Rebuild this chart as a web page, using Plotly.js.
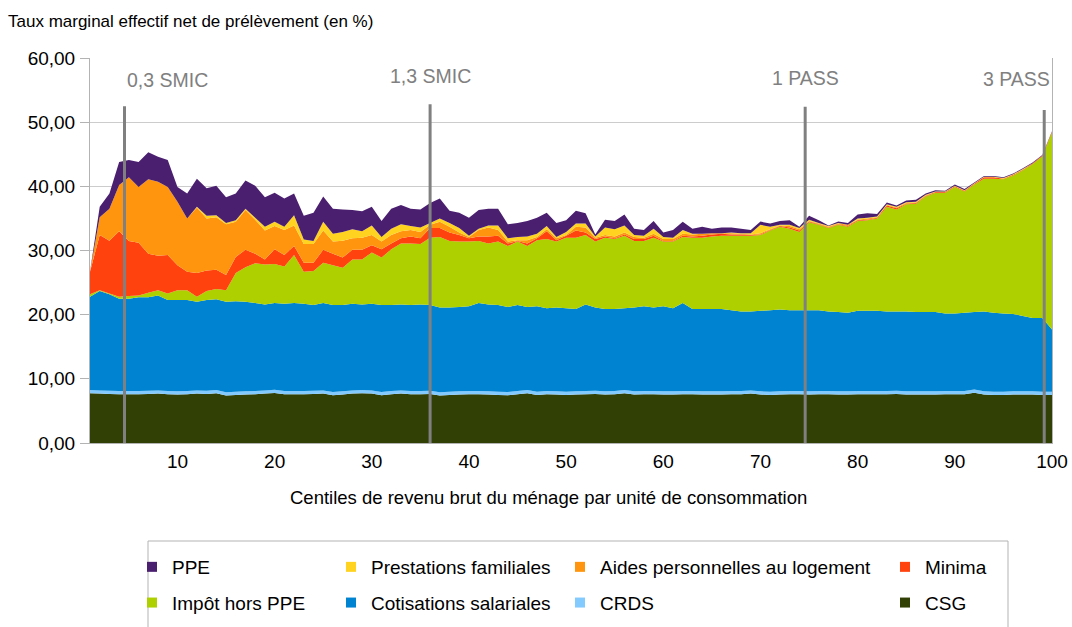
<!DOCTYPE html>
<html>
<head>
<meta charset="utf-8">
<script src="https://cdn.plot.ly/plotly-3.0.1.min.js"></script>
<style>html,body{margin:0;padding:0;background:#fff;}#chart{width:1072px;height:627px;}</style>
</head>
<body>
<div id="chart"></div>
<script>
// Centiles de revenu brut (1..100)
const centiles = [];
for (let c = 1; c <= 100; c++) centiles.push(c);

const csg = [7.75,7.7,7.65,7.6,7.6,7.6,7.65,7.7,7.6,7.55, 7.6,7.7,7.65,7.75,7.4,7.5,7.55,7.6,7.7,7.8, 7.6,7.6,7.6,7.65,7.7,7.45,7.55,7.7,7.75,7.7, 7.45,7.6,7.7,7.6,7.6,7.65,7.4,7.5,7.55,7.6, 7.6,7.55,7.5,7.45,7.6,7.75,7.5,7.6,7.55,7.5, 7.55,7.6,7.65,7.55,7.6,7.75,7.55,7.6,7.6,7.55, 7.55,7.6,7.6,7.55,7.55,7.55,7.6,7.6,7.7,7.55, 7.5,7.55,7.6,7.6,7.55,7.6,7.6,7.55,7.55,7.6, 7.6,7.6,7.6,7.65,7.55,7.55,7.55,7.55,7.6,7.6, 7.6,7.85,7.55,7.5,7.5,7.55,7.55,7.55,7.5,7.5];
const crds = [0.5,0.5,0.5,0.5,0.5,0.5,0.5,0.5,0.5,0.5, 0.5,0.5,0.5,0.5,0.5,0.5,0.5,0.5,0.5,0.5, 0.5,0.5,0.5,0.5,0.5,0.5,0.5,0.5,0.5,0.5, 0.5,0.5,0.5,0.5,0.5,0.5,0.5,0.5,0.5,0.5, 0.5,0.5,0.5,0.5,0.5,0.5,0.5,0.5,0.5,0.5, 0.5,0.5,0.5,0.5,0.5,0.5,0.5,0.5,0.5,0.5, 0.5,0.5,0.5,0.5,0.5,0.5,0.5,0.5,0.5,0.5, 0.5,0.5,0.5,0.5,0.5,0.5,0.5,0.5,0.5,0.5, 0.5,0.5,0.5,0.5,0.5,0.5,0.5,0.5,0.5,0.5, 0.5,0.5,0.5,0.5,0.5,0.5,0.5,0.5,0.5,0.5];
const cotisations = [14.55,15.5,15.05,14.4,14.4,14.6,14.55,14.8,14.2,14.25, 14.2,13.8,14.15,14.15,14.1,14.1,13.95,13.7,13.4,13.5, 13.6,13.7,13.6,13.35,13.6,13.55,13.45,13.5,13.35,13.5, 13.55,13.4,13.4,13.4,13.5,13.35,13.2,13.1,13.15,13.2, 13.7,13.55,13.5,13.25,13.4,12.95,13.3,12.9,13.05,13.0, 12.85,13.5,12.95,12.85,12.8,12.75,13.05,13.2,13.0,13.25, 12.95,13.7,12.8,12.85,12.85,12.85,12.6,12.4,12.3,12.55, 12.7,12.75,12.6,12.6,12.65,12.6,12.4,12.35,12.25,12.5, 12.5,12.5,12.4,12.35,12.45,12.35,12.35,12.35,12.1,12.1, 12.2,12.05,12.45,12.3,12.2,12.05,11.75,11.45,11.5,9.7];
const impot = [0.4,0.1,0.1,0.3,0.4,0.3,0.7,0.8,1.0,1.5, 1.5,0.8,1.4,1.6,1.8,4.4,5.4,6.2,6.2,6.1, 5.8,7.5,5.0,5.3,6.3,6.2,5.8,6.9,7.0,8.0, 7.4,8.7,9.5,9.6,9.4,10.5,11.0,10.4,10.2,10.1, 9.7,9.5,9.9,9.5,9.9,9.5,10.3,10.8,10.3,11.0, 11.1,10.8,10.3,11.1,10.9,11.3,10.4,10.2,10.9,10.1, 10.4,10.3,11.1,11.1,11.3,11.4,11.6,11.8,11.8,11.8, 12.4,12.9,12.7,12.2,13.7,13.3,13.0,13.6,13.4,14.0, 14.1,14.4,16.3,15.9,16.7,16.9,18.0,18.6,18.8,19.7, 18.9,19.9,20.7,20.9,20.9,21.6,22.7,24.0,25.2,30.7];
const minima = [3.5,8.6,8.2,10.2,8.6,8.2,6.1,5.4,6.0,3.9, 2.9,3.7,3.2,3.0,2.4,2.5,2.7,1.5,0.8,2.3, 1.8,1.4,1.4,1.3,2.0,1.8,1.6,1.5,1.5,1.1, 1.3,0.9,0.8,1.1,0.9,1.5,1.4,1.3,1.0,0.5, 0.7,1.1,0.9,0.4,0.1,0.4,0.3,1.2,0.2,0.3, 1.1,0.4,0.4,0.2,0.1,0.2,0.3,0.3,0.3,0.1, 0.1,0.2,0.2,0.3,0.3,0.3,0.2,0.2,0.1,0.1, 0.1,0.1,0.2,0.2,0.1,0.1,0.1,0.1,0.1,0.1, 0.1,0.1,0.2,0.2,0.1,0.1,0.1,0.1,0.1,0.1, 0.1,0.1,0.2,0.2,0.1,0.1,0.1,0.1,0.1,0.1];
const aides = [0,2.8,5.0,7.2,9.9,8.7,11.6,11.5,10.6,9.9, 8.3,10.2,8.1,8.2,7.9,5.5,6.2,5.3,4.5,3.6, 3.9,3.2,2.9,2.9,3.0,1.9,2.6,1.8,1.9,1.6, 1.2,1.3,1.1,1.0,1.0,0.5,1.0,0.9,0.4,0.2, 1.0,1.4,0.9,0.3,0.1,0.5,0.2,0.3,0.3,0.1, 0.6,0.8,0.2,0.2,0.3,0.3,0.3,0.2,0.3,0.3, 0.3,0.3,0.3,0.3,0.2,0.1,0.2,0.1,0.1,0.2, 0.1,0.1,0.2,0.2,0.1,0.1,0.1,0.1,0.2,0.1, 0.2,0.1,0.1,0.1,0.1,0.1,0.1,0,0,0, 0,0,0,0,0,0,0,0,0,0];
const prestations = [0,0,0,0,0,0,0,0,0,0, 0,0.1,0.4,0.3,0.2,0.2,0.2,0.3,0.6,0.7, 0.5,1.6,0.7,0.5,1.4,1.2,1.4,1.4,1.0,1.5, 0.7,1.0,1.1,0.6,0.7,0.3,0.5,0.6,0.7,0.2, 0.2,0.3,0.7,0.5,0.5,0.6,0.5,0.5,0.2,0.5, 0.5,0.6,0.2,1.2,1.1,1.1,0.3,0.3,0.8,0.3, 0.2,0.6,0.1,0,0,0,0.1,0.1,0.2,1.3, 0.4,0.1,0.2,0.2,0.2,0.1,0.1,0.1,0,0.2, 0.1,0.1,0.1,0.1,0.1,0.1,0.1,0.1,0.1,0.1, 0.1,0.1,0.1,0.1,0.1,0.1,0.1,0,0,0];
const ppe = [0,1.6,2.4,3.6,2.7,3.9,4.2,3.9,4.2,2.3, 3.9,4.4,4.3,4.6,4.0,4.2,4.4,5.0,4.6,4.5, 4.4,3.4,3.7,4.4,3.9,3.9,3.5,3.0,3.1,2.9, 2.5,3.1,3.0,2.7,2.8,3.1,3.1,1.9,2.4,2.8, 2.9,2.6,2.6,2.2,2.2,2.4,2.5,2.1,2.2,1.8, 2.0,1.6,0.3,1.2,1.3,1.7,1.0,0.9,1.2,0.7, 1.2,1.3,0.8,1.1,0.7,0.9,0.8,0.7,0.5,0.5, 0.5,0.6,0.7,0.2,0.6,0.4,0.1,0.2,0.3,0.6, 0.7,0.4,0.3,0.2,0.3,0.3,0.2,0.2,0.1,0.2, 0.2,0.1,0.1,0.1,0.1,0.1,0.1,0.1,0.1,0.1];

// Series (stack order bottom -> top)
const seriesNames  = ['CSG','CRDS','Cotisations salariales','Impôt hors PPE','Minima','Aides personnelles au logement','Prestations familiales','PPE'];
const seriesValues = [csg, crds, cotisations, impot, minima, aides, prestations, ppe];
const seriesColors = ['#314004','#83caff','#0084d1','#aecf00','#ff420e','#ff950e','#ffd320','#4b1f6f'];
const seriesLegend = ['legend4','legend3','legend2','legend','legend4','legend3','legend2','legend'];
// Legend display order (top row first)
const legendOrder = [7,6,5,4,3,2,1,0];

// Reference thresholds
const markerLabels = ['0,3 SMIC','1,3 SMIC','1 PASS','3 PASS'];
const markerX      = [4.55, 36, 74.6, 99.2];
const markerTop    = [52.5, 52.8, 52.4, 51.9];
const labelX       = [4.6, 36, 74.6, 100];
const labelY       = [56.6, 57.2, 56.9, 56.7];
const labelAnchor  = ['left','center','center','right'];

const FONT = 'Liberation Sans, Arial, sans-serif';

const traces = [];
seriesNames.forEach((name, i) => {
  traces.push({
    type: 'scatter', x: centiles, y: seriesValues[i], name: name,
    stackgroup: 'one', mode: 'none', fillcolor: seriesColors[i],
    line: {width: 0}, showlegend: false, hoverinfo: 'x+y+name'
  });
});
legendOrder.forEach(i => {
  traces.push({
    type: 'scatter', x: [null], y: [null], name: seriesNames[i], mode: 'markers',
    marker: {symbol: 'square', size: 10, color: seriesColors[i]},
    legend: seriesLegend[i], legendgroup: 'g' + i, showlegend: true, hoverinfo: 'skip'
  });
});

const shapes = markerX.map((x, i) => ({
  type: 'line', xref: 'x', yref: 'y', x0: x, x1: x, y0: -0.5, y1: markerTop[i],
  line: {color: '#808080', width: 3}, layer: 'above'
}));
shapes.push({
  type: 'rect', xref: 'paper', yref: 'paper',
  x0: (148-90)/962, x1: (1008-90)/962, y0: (443-541)/385, y1: (443-660)/385,
  line: {color: '#b3b3b3', width: 1}, fillcolor: 'rgba(0,0,0,0)', layer: 'below'
});

const annotations = markerLabels.map((t, i) => ({
  text: t, x: labelX[i], y: labelY[i], xref: 'x', yref: 'y',
  xanchor: labelAnchor[i], yanchor: 'middle', showarrow: false,
  font: {family: FONT, size: 19.5, color: '#808080'}
}));
annotations.push({
  text: 'Centiles de revenu brut du ménage par unité de consommation',
  xref: 'paper', yref: 'paper', x: (548-90)/962, y: (443-497)/385,
  xanchor: 'center', yanchor: 'middle', showarrow: false,
  font: {family: FONT, size: 18.5, color: '#000'}
});

const legendBase = {
  orientation: 'v', yanchor: 'top', y: (443-548)/385, xanchor: 'left',
  font: {family: FONT, size: 19, color: '#000'}, bgcolor: 'rgba(0,0,0,0)',
  borderwidth: 0, tracegroupgap: 8, traceorder: 'grouped', itemclick: false, itemdoubleclick: false
};

const layout = {
  width: 1072, height: 627,
  margin: {l: 90, r: 20, t: 58, b: 184, pad: 0, autoexpand: false},
  paper_bgcolor: '#fff', plot_bgcolor: '#fff',
  separators: ', ',
  font: {family: FONT, color: '#000'},
  title: {
    text: 'Taux marginal effectif net de prélèvement (en %)',
    xref: 'container', yref: 'container', x: 8/1072, y: 1 - 21/627,
    xanchor: 'left', yanchor: 'middle', font: {family: FONT, size: 17, color: '#000'}
  },
  xaxis: {
    range: [1, 100], tickvals: [10,20,30,40,50,60,70,80,90,100],
    showgrid: false, zeroline: false, showline: true, linecolor: '#b3b3b3', linewidth: 1,
    ticks: '', ticklabelstandoff: 1, tickfont: {family: FONT, size: 19, color: '#000'}
  },
  yaxis: {
    range: [0, 60], dtick: 10, tick0: 0, tickformat: '.2f',
    showgrid: true, gridcolor: '#cccccc', gridwidth: 1, zeroline: false,
    showline: true, linecolor: '#b3b3b3', linewidth: 1, mirror: true,
    ticks: 'outside', ticklen: 9, tickcolor: '#b3b3b3', ticklabelstandoff: 1,
    tickfont: {family: FONT, size: 19, color: '#000'}
  },
  legend:  Object.assign({}, legendBase, {x: (132-90)/962}),
  legend2: Object.assign({}, legendBase, {x: (331-90)/962}),
  legend3: Object.assign({}, legendBase, {x: (560-90)/962}),
  legend4: Object.assign({}, legendBase, {x: (885-90)/962}),
  shapes: shapes,
  annotations: annotations,
  showlegend: true
};

Plotly.newPlot('chart', traces, layout, {displayModeBar: false, staticPlot: false});
</script>
</body>
</html>
